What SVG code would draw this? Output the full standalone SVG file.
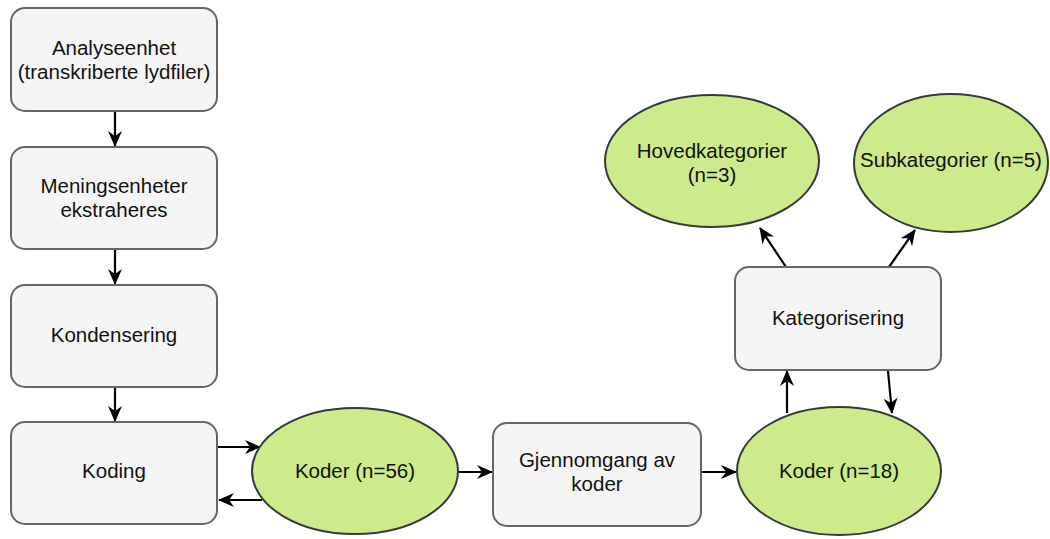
<svg xmlns="http://www.w3.org/2000/svg" width="1050" height="539" viewBox="0 0 1050 539">
<defs>
<marker id="ah" viewBox="0 0 16 14" refX="15" refY="7" markerWidth="16" markerHeight="14" markerUnits="userSpaceOnUse" orient="auto">
<path d="M0,0 L16,7 L0,14 L5,7 Z" fill="#000"/>
</marker>
<style>
.box{fill:#f5f5f5;stroke:#666;stroke-width:2}
.ell{fill:#cdeb8b;stroke:#36393d;stroke-width:2}
.t{font-family:"Liberation Sans",Arial,sans-serif;font-size:20.5px;fill:#111;text-anchor:middle}
.c{stroke:#000;stroke-width:2.2;fill:none;marker-end:url(#ah)}
</style>
</defs>
<rect width="1050" height="539" fill="#fff"/>
<g id="connectors">
<line class="c" x1="115" y1="112" x2="115" y2="146"/>
<line class="c" x1="115" y1="250" x2="115" y2="284"/>
<line class="c" x1="115" y1="388" x2="115" y2="421"/>
<line class="c" x1="218" y1="447" x2="260" y2="447"/>
<line class="c" x1="262" y1="500" x2="219" y2="500"/>
<line class="c" x1="459" y1="472" x2="492" y2="472"/>
<line class="c" x1="702" y1="472" x2="736" y2="472"/>
<line class="c" x1="787" y1="413" x2="787" y2="371"/>
<line class="c" x1="888" y1="371" x2="892" y2="413"/>
<line class="c" x1="786" y1="267" x2="760" y2="228"/>
<line class="c" x1="889" y1="267" x2="915" y2="230"/>
</g>
<g id="n1"><rect class="box" x="11" y="8" width="206" height="103" rx="14"/><text class="t" x="114" y="55">Analyseenhet</text><text class="t" x="114" y="79">(transkriberte lydfiler)</text></g>
<g id="n2"><rect class="box" x="11" y="147" width="206" height="102" rx="14"/><text class="t" x="114" y="193">Meningsenheter</text><text class="t" x="114" y="217">ekstraheres</text></g>
<g id="n3"><rect class="box" x="11" y="285" width="206" height="102" rx="14"/><text class="t" x="114" y="342">Kondensering</text></g>
<g id="n4"><rect class="box" x="11" y="422" width="206" height="102" rx="14"/><text class="t" x="114" y="478">Koding</text></g>
<g id="n5"><ellipse class="ell" cx="355" cy="471" rx="103" ry="63"/><text class="t" x="355" y="478">Koder (n=56)</text></g>
<g id="n6"><rect class="box" x="493" y="423" width="208" height="103" rx="14"/><text class="t" x="597" y="467">Gjennomgang av</text><text class="t" x="597" y="491">koder</text></g>
<g id="n7"><ellipse class="ell" cx="839" cy="471" rx="102" ry="64"/><text class="t" x="839" y="478">Koder (n=18)</text></g>
<g id="n8"><rect class="box" x="735" y="267" width="206" height="103" rx="14"/><text class="t" x="838" y="325">Kategorisering</text></g>
<g id="n9"><ellipse class="ell" cx="712" cy="161" rx="107" ry="66"/><text class="t" x="712" y="158">Hovedkategorier</text><text class="t" x="712" y="182">(n=3)</text></g>
<g id="n10"><ellipse class="ell" cx="951" cy="163" rx="97" ry="69"/><text class="t" x="951" y="167">Subkategorier (n=5)</text></g>
</svg>
